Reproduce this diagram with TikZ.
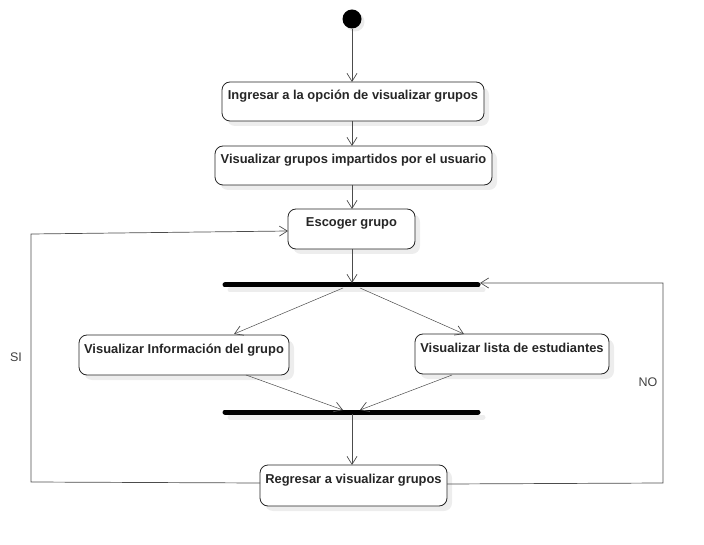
\documentclass[tikz,border=0pt]{standalone}
\usepackage{fontspec}
\setmainfont{Liberation Sans}
\usetikzlibrary{arrows.meta}
\begin{document}
\begin{tikzpicture}[x=1pt,y=-1pt,
  act/.style={draw=black!85,rounded corners=8pt,line width=0.8pt,fill=white},
  shad/.style={fill=black!7,rounded corners=8pt},
  lbl/.style={font=\bfseries\fontsize{12.9}{15}\selectfont,text=black!85,inner sep=0pt},
  conn/.style={draw=black!70,line width=0.7pt,-{Straight Barb[length=8pt,width=10pt,line width=0.7pt]}},
  bar/.style={line width=5pt,line cap=round,black},
  barshad/.style={line width=5pt,line cap=round,black!7}]
\useasboundingbox (0,0) rectangle (704,545);
% start
\fill[black!8] (355,22) circle (9.5);
\node[circle,fill=black,minimum size=19pt,inner sep=0pt] (start) at (352,19) {};
% helper to draw boxes
\newcommand\actbox[6]{%
  \fill[shad] (#1+5,#2+5) rectangle (#3+5,#4+5);
  \draw[act] (#1,#2) rectangle (#3,#4);
  \node[lbl,anchor=base] (#5) at ({(#1+#3)/2},#2+18) {#6};
}
\actbox{222}{82}{484}{121}{b1}{Ingresar a la opción de visualizar grupos}
\actbox{215}{146}{492}{185}{b2}{Visualizar grupos impartidos por el usuario}
\actbox{288}{209}{415}{249}{b3}{Escoger grupo}
\actbox{79}{335}{289}{375}{bl}{Visualizar Información del grupo}
\actbox{415}{334}{609}{374}{br}{Visualizar lista de estudiantes}
\actbox{260}{465}{447}{506}{bb}{Regresar a visualizar grupos}
% named anchor coordinates
\coordinate (b1t) at (352,82);   \coordinate (b1b) at (352,121);
\coordinate (b2t) at (352,146);  \coordinate (b2b) at (352,185);
\coordinate (b3t) at (352,209);  \coordinate (b3b) at (352,249);
\coordinate (b3l) at (288,231);
\coordinate (blt) at (234,334);  \coordinate (blb) at (246,375);
\coordinate (brt) at (464,334);  \coordinate (brb) at (452,375);
\coordinate (bbt) at (352,465);  \coordinate (bbl) at (260,483);
\coordinate (bbr) at (447,484);
% bars
\draw[barshad] (230,290) -- (483,290);
\draw[bar] (225,285) -- (478,285);
\draw[barshad] (230,417) -- (483,417);
\draw[bar] (225,412) -- (478,412);
\coordinate (f1t) at (352,283); \coordinate (f1l) at (343,288); \coordinate (f1r) at (360,288);
\coordinate (f1e) at (480,283);
\coordinate (j1l) at (343,410); \coordinate (j1r) at (360,410); \coordinate (j1b) at (352,414);
% connectors
\draw[conn] (start) -- (b1t);
\draw[conn] (b1b) -- (b2t);
\draw[conn] (b2b) -- (b3t);
\draw[conn] (b3b) -- (f1t);
\draw[conn,line width=0.5pt] (f1l) -- (blt);
\draw[conn,line width=0.5pt] (f1r) -- (brt);
\draw[conn,line width=0.5pt] (blb) -- (j1l);
\draw[conn,line width=0.5pt] (brb) -- (j1r);
\draw[conn] (j1b) -- (bbt);
\coordinate (si1) at (31,482); \coordinate (si2) at (31,234);
\coordinate (no1) at (663,483); \coordinate (no2) at (663,283);
\draw[conn] (bbl) -- (si1) -- (si2) -- (b3l);
\draw[conn] (bbr) -- (no1) -- (no2) -- (f1e);
\node[font=\fontsize{12.5}{14}\selectfont,text=black!75] (si) at (16,357) {SI};
\node[font=\fontsize{12.5}{14}\selectfont,text=black!75] (no) at (648,382) {NO};
\end{tikzpicture}
\end{document}
